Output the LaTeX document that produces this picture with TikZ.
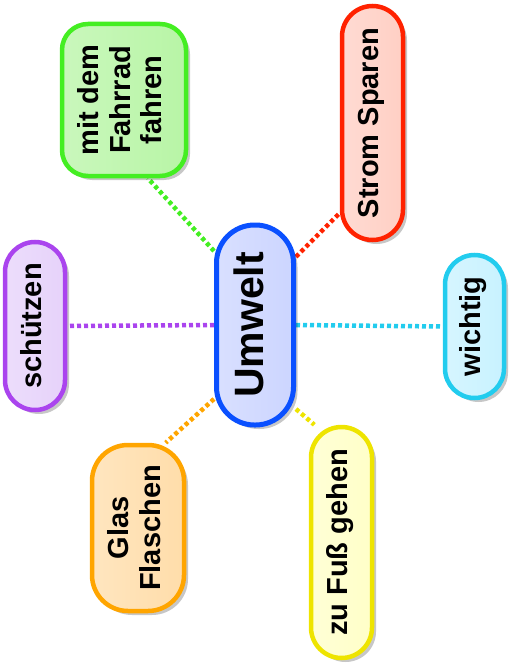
\documentclass[tikz,border=0pt]{standalone}
\usepackage{fontspec}
\usepackage{graphicx}
\setmainfont{Liberation Sans}
\usetikzlibrary{shadows,backgrounds}
\definecolor{bluebd}{HTML}{0A50FF}\definecolor{bluefl}{HTML}{CCD5FF}
\definecolor{greenbd}{HTML}{44EE22}\definecolor{greenfl}{HTML}{B8F5A6}
\definecolor{redbd}{HTML}{FF2200}\definecolor{redfl}{HTML}{FFCFC4}
\definecolor{purplebd}{HTML}{AA44EE}\definecolor{purplefl}{HTML}{E6D2FA}
\definecolor{cyanbd}{HTML}{22CCEE}\definecolor{cyanfl}{HTML}{C8F2FF}
\definecolor{orangebd}{HTML}{FFA500}\definecolor{orangefl}{HTML}{FFDDAA}
\definecolor{yellowbd}{HTML}{EEE400}\definecolor{yellowfl}{HTML}{FFFFC8}
\newcommand{\rtext}[1]{\rotatebox{90}{\begin{tabular}{@{}c@{}}#1\end{tabular}}}
\tikzset{
  bubble/.style 2 args={draw=#1bd, left color=#1fl!75!white, right color=#1fl,
    line width=4.5pt, inner sep=0pt, align=center,
    font=\fontsize{29}{31.5}\selectfont\bfseries,
    drop shadow={shadow xshift=4pt, shadow yshift=-4pt, opacity=0.22, fill=black},
    rounded corners=#2},
  link/.style={draw=#1bd, line width=4.5pt, dash pattern=on 4pt off 3pt}
}
\begin{document}
\begin{tikzpicture}[x=1pt,y=-1pt]
\useasboundingbox (0,0) rectangle (509,663);
\node[bubble={blue}{38pt}, line width=5pt, minimum width=77pt, minimum height=200pt,
      font=\fontsize{41}{44}\selectfont\bfseries] (u) at (255,325) {\rtext{Umwelt}};
\node[bubble={green}{26pt}, minimum width=124pt, minimum height=152pt] (f) at (124,100) {\rtext{mit dem\\Fahrrad\\fahren}};
\node[bubble={red}{30.5pt}, minimum width=61pt, minimum height=234pt] (r) at (372.5,123) {\rtext{Strom Sparen}};
\node[bubble={purple}{30pt}, minimum width=60pt, minimum height=168pt] (s) at (35,326) {\rtext{schützen}};
\node[bubble={cyan}{29.5pt}, minimum width=59pt, minimum height=143pt] (w) at (474.5,326.5) {\rtext{wichtig}};
\node[bubble={orange}{36pt}, minimum width=92pt, minimum height=166pt] (g) at (138,528) {\rtext{Glas\\Flaschen}};
\node[bubble={yellow}{30.5pt}, minimum width=61pt, minimum height=231pt] (z) at (341.5,542.5) {\rtext{zu Fuß gehen}};
\begin{scope}[on background layer]
\draw[link=green] (u.119) -- (f.-73);
\draw[link=red] (u.59) -- (r.-110);
\draw[link=purple] (u.180) -- (s.0);
\draw[link=cyan] (u.0) -- (w.180);
\draw[link=orange] (u.-119) -- (g.72);
\draw[link=yellow] (u.-64) -- (z.103);
\end{scope}
\end{tikzpicture}
\end{document}
